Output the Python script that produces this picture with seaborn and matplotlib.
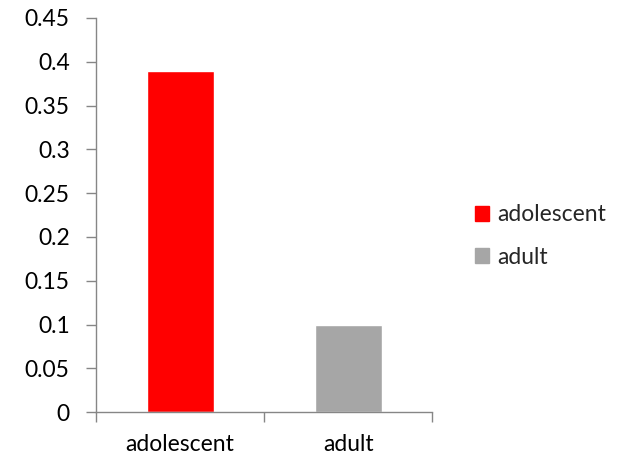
import matplotlib
matplotlib.use("Agg")
import matplotlib.pyplot as plt
import seaborn as sns
import pandas as pd
import numpy as np

groups = ["adolescent", "adult"]
values = [0.39, 0.10]
colors = ["#FF0000", "#A6A6A6"]
y_ticks = [0, 0.05, 0.1, 0.15, 0.2, 0.25, 0.3, 0.35, 0.4, 0.45]
y_tick_labels = ["0", "0.05", "0.1", "0.15", "0.2", "0.25", "0.3", "0.35", "0.4", "0.45"]

sns.set_style("white")
plt.rcParams["font.family"] = ["Lato", "DejaVu Sans"]

df = pd.DataFrame({"group": groups, "value": values})

fig = plt.figure(figsize=(6.2, 4.61), dpi=100)
ax = fig.add_axes([0.155, 0.106, 0.542, 0.855])

sns.barplot(data=df, x="group", y="value", hue="group", palette=colors,
            dodge=False, width=0.4, ax=ax, legend=False, saturation=1)

ax.set_xlim(-0.5, 1.5)
ax.set_ylim(0, 0.45)
ax.set_yticks(y_ticks)
ax.set_yticklabels(y_tick_labels)
ax.set_xlabel("")
ax.set_ylabel("")

spine_color = "#868686"
for side in ["top", "right"]:
    ax.spines[side].set_visible(False)
for side in ["left", "bottom"]:
    ax.spines[side].set_color(spine_color)
    ax.spines[side].set_linewidth(1.0)

fs = 16.5
ax.tick_params(axis="y", which="major", direction="out", length=7, width=1,
               color=spine_color, labelsize=fs, labelcolor="black", pad=12, left=True)
# category boundary ticks on the x axis, labels centred under the bars
ax.set_xticks([0, 1])
ax.set_xticklabels(groups)
ax.tick_params(axis="x", which="major", length=0, labelsize=fs, labelcolor="black", pad=16)
ax.set_xticks([-0.5, 0.5, 1.5], minor=True)
ax.tick_params(axis="x", which="minor", direction="out", length=7, width=1,
               color=spine_color, bottom=True)

handles = [plt.Rectangle((0, 0), 1, 1, color=c) for c in colors]
fig.legend(handles, groups, loc="center left", bbox_to_anchor=(0.733, 0.488),
           frameon=False, fontsize=fs, handlelength=0.62, handleheight=0.62,
           handletextpad=0.35, labelspacing=0.92)

fig.savefig("out.png", dpi=100)
